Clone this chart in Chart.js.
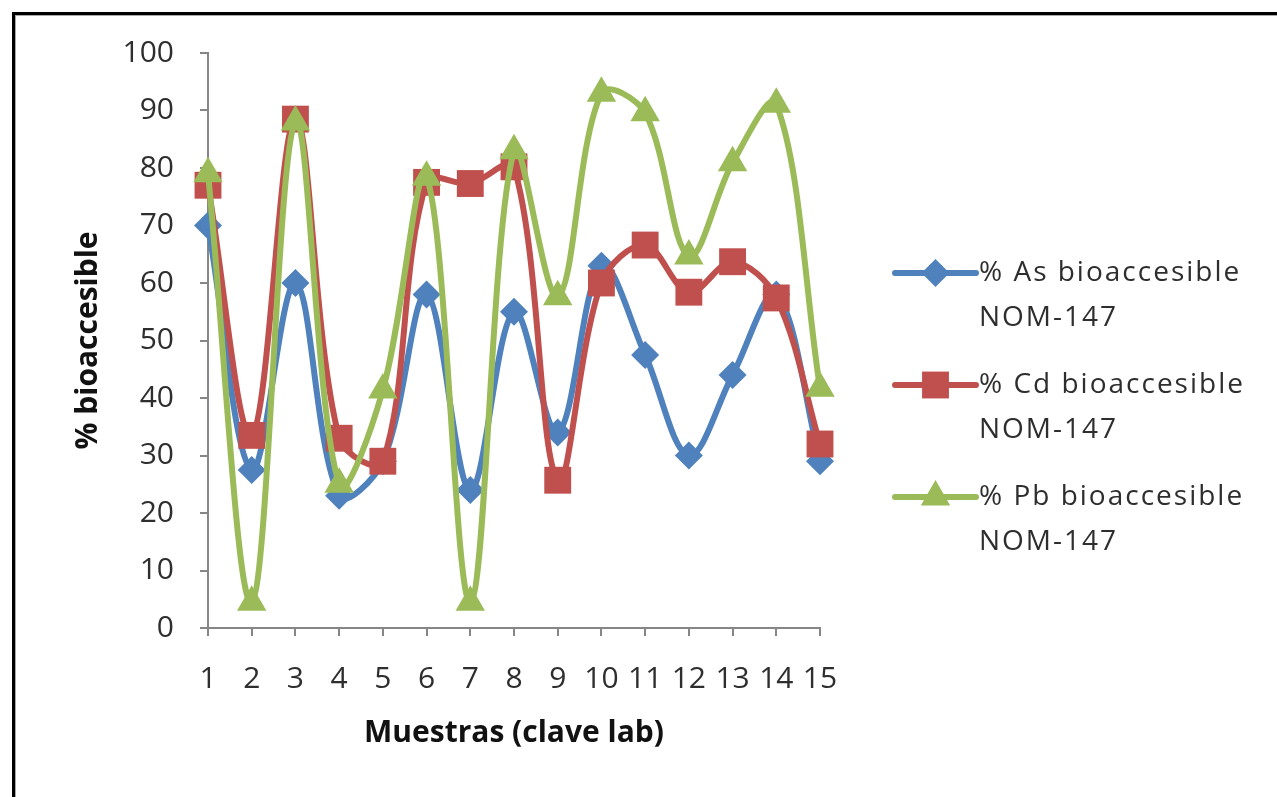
<!DOCTYPE html>
<html>
<head>
<meta charset="utf-8">
<script src="https://cdn.jsdelivr.net/npm/chart.js@4/dist/chart.umd.min.js"></script>
<style>
  html, body { margin: 0; padding: 0; background: #fff; overflow: hidden; }
  #wrap { position: relative; width: 1277px; height: 797px; }
</style>
</head>
<body>
<div id="wrap"><canvas id="c" width="1277" height="797"></canvas></div>
<script>
// Sample keys (lab code) on the x axis
const muestras = ['1', '2', '3', '4', '5', '6', '7', '8', '9', '10', '11', '12', '13', '14', '15'];

// Bioaccessible percentages per element
const asBio = [70, 27.5, 60, 23, 29, 58, 24, 55, 34, 63, 47.5, 30, 44, 58, 29];
const cdBio = [77, 33.5, 88.5, 33, 29, 77.5, 77.3, 80.2, 25.7, 60, 66.6, 58.4, 63.7, 57.4, 32];
const pbBio = [79, 4.5, 88, 25, 41.4, 78.4, 4.5, 83, 57.6, 93, 89.6, 64.7, 80.9, 91.1, 41.7];

// Series names (two lines each in the legend)
const seriesNames = [
  ['% As bioaccesible', 'NOM-147'],
  ['% Cd bioaccesible', 'NOM-147'],
  ['% Pb bioaccesible', 'NOM-147']
];

// y axis range and step
const yMin = 0, yMax = 100, yStep = 10;

const BLUE = '#4F81BD', RED = '#C0504D', GREEN = '#9BBB59';
const AXIS = '#868686';
const TXT = '#2e2e2e';
const FONT = "'Open Sans', 'DejaVu Sans', sans-serif";

function markerPath(ctx, style, x, y, r) {
  ctx.beginPath();
  if (style === 'rectRot') {
    ctx.moveTo(x - r, y); ctx.lineTo(x, y - r); ctx.lineTo(x + r, y); ctx.lineTo(x, y + r);
  } else if (style === 'rect') {
    const s = Math.SQRT1_2 * r;
    ctx.rect(x - s, y - s, 2 * s, 2 * s);
  } else if (style === 'triangle') {
    ctx.moveTo(x, y - r);
    ctx.lineTo(x + 0.866 * r, y + r / 2);
    ctx.lineTo(x - 0.866 * r, y + r / 2);
  }
  ctx.closePath();
}

// Frame around the chart object (black edge with a grey inner shade)
const framePlugin = {
  id: 'frame',
  beforeDraw(chart) {
    const ctx = chart.ctx;
    ctx.save();
    ctx.fillStyle = '#ffffff';
    ctx.fillRect(0, 0, chart.width, chart.height);
    ctx.fillStyle = '#000000';
    ctx.fillRect(12, 12, chart.width - 12, 3);
    ctx.fillRect(12, 12, 3, chart.height - 12);
    ctx.fillStyle = '#a8a8a8';
    ctx.fillRect(15, 15, chart.width - 15, 1);
    ctx.fillRect(15, 15, 1, chart.height - 15);
    ctx.restore();
  }
};

// Legend on the right: line + marker, then a two-line label
const sideLegend = {
  id: 'sideLegend',
  afterDraw(chart) {
    const ctx = chart.ctx;
    ctx.save();
    const x0 = 895, x1 = 976, xt = 979;
    const startY = 273, entryGap = 112, lineGap = 45;
    chart.data.datasets.forEach((ds, i) => {
      const y = startY + i * entryGap;
      ctx.strokeStyle = ds.borderColor;
      ctx.lineWidth = ds.borderWidth;
      ctx.lineCap = 'round';
      ctx.beginPath(); ctx.moveTo(x0, y); ctx.lineTo(x1, y); ctx.stroke();
      ctx.fillStyle = ds.pointBackgroundColor;
      markerPath(ctx, ds.pointStyle, (x0 + x1) / 2, y, ds.pointRadius);
      ctx.fill();
      ctx.fillStyle = TXT;
      ctx.font = "28px " + FONT;
      if ('letterSpacing' in ctx) ctx.letterSpacing = '2px';
      ctx.textBaseline = 'middle';
      ctx.textAlign = 'left';
      const lines = Array.isArray(ds.label) ? ds.label : [ds.label];
      lines.forEach((t, k) => ctx.fillText(t, xt, y + k * lineGap));
    });
    ctx.restore();
  }
};

function series(label, data, color, style, r, order) {
  return {
    label: label,
    data: data,
    order: order,
    borderColor: color,
    backgroundColor: color,
    borderWidth: 6,
    tension: 0.35,
    pointStyle: style,
    pointRadius: r,
    pointHoverRadius: r,
    pointBackgroundColor: color,
    pointBorderColor: color,
    pointBorderWidth: 0,
    fill: false
  };
}

new Chart(document.getElementById('c'), {
  type: 'line',
  data: {
    labels: muestras,
    datasets: [
      series(seriesNames[0], asBio, BLUE, 'rectRot', 14, 2),
      series(seriesNames[1], cdBio, RED, 'rect', 19, 1),
      series(seriesNames[2], pbBio, GREEN, 'triangle', 17, 0)
    ]
  },
  options: {
    responsive: false,
    animation: false,
    events: [],
    layout: { padding: { left: 14, top: 53, right: 457, bottom: 20 } },
    plugins: {
      legend: { display: false },
      tooltip: { enabled: false },
      title: { display: false }
    },
    scales: {
      x: {
        type: 'category',
        offset: false,
        grid: { drawOnChartArea: false, drawTicks: true, tickLength: 8, color: AXIS, lineWidth: 2 },
        border: { display: true, color: AXIS, width: 2 },
        ticks: {
          color: TXT, padding: 25, autoSkip: false, maxRotation: 0, minRotation: 0,
          font: { family: FONT, size: 30 }
        },
        title: {
          display: true, text: 'Muestras (clave lab)', color: '#111',
          font: { family: FONT, size: 30, weight: 'bold' },
          padding: { top: 0, bottom: 26 }
        },
        afterFit(scale) { scale.height = 149; }
      },
      y: {
        min: yMin, max: yMax,
        grid: { drawOnChartArea: false, drawTicks: true, tickLength: 8, color: AXIS, lineWidth: 2 },
        border: { display: true, color: AXIS, width: 2 },
        ticks: {
          stepSize: yStep, color: TXT, padding: 26,
          font: { family: FONT, size: 30 }
        },
        title: {
          display: true, text: '% bioaccesible', color: '#111',
          font: { family: FONT, size: 30, weight: 'bold' },
          padding: { top: 56, bottom: 0 }
        },
        afterFit(scale) { scale.width = 194; }
      }
    }
  },
  plugins: [framePlugin, sideLegend]
});
</script>
</body>
</html>
